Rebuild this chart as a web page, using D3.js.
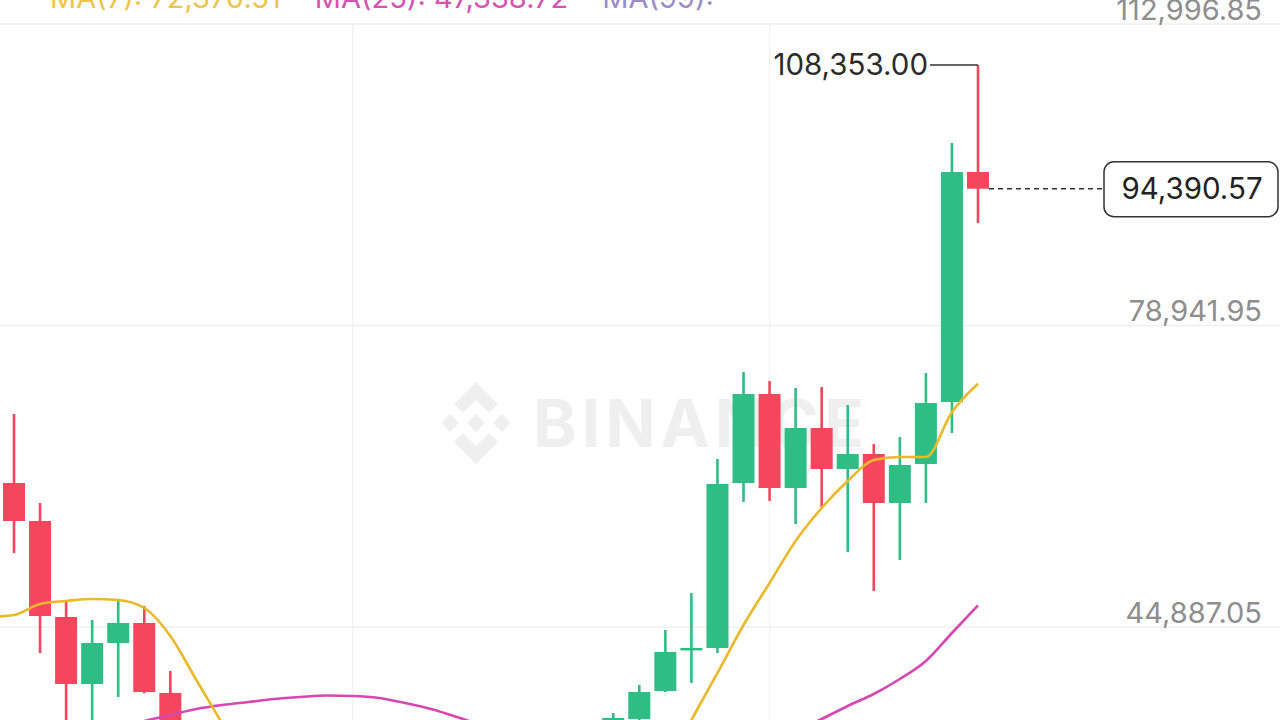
<!DOCTYPE html>
<html>
<head>
<meta charset="utf-8">
<script src="https://cdn.jsdelivr.net/npm/d3@7"></script>
<style>
  html, body { margin: 0; padding: 0; background: #fff; }
  svg { display: block; font-family: Inter, Roboto, "Noto Sans", sans-serif; }
</style>
</head>
<body>
<div id="chart"></div>
<script>
// candle data (index = candle position, only the visible ones)
const candleIdx = [0, 1, 2, 3, 4, 5, 6, 23, 24, 25, 26, 27, 28, 29, 30, 31, 32, 33, 34, 35, 36, 37];
const open  = [61152, 56860, 46017, 38449, 43080, 45339, 37433, 33254, 34500, 37659, 42250, 42516, 61152, 71205, 60588, 67365, 62734, 64428, 58893, 63298, 70301, 96280];
const high  = [68946, 58893, 47711, 45678, 47937, 47260, 39918, 35174, 38336, 44549, 48728, 63863, 73690, 72673, 71883, 71996, 69962, 65557, 66348, 73577, 99555, 108353.00];
const low   = [53246, 41951, 31559, 32124, 36981, 37400, 27606, 32124, 34200, 37546, 38562, 41951, 59006, 59119, 56521, 58442, 53359, 48954, 52455, 58893, 66800, 90519];
const close = [56860, 46130, 38449, 43080, 45339, 37546, 29865, 34609, 37546, 42064, 42520, 61039, 71205, 60588, 67365, 62734, 64428, 58893, 63185, 70188, 96280, 94390.57];

// moving averages (null = gap where the line runs below the chart)
const ma7Idx = [-1, 0, 1, 2, 3, 4, 5, 6, 7, 8, 9, 17, 25, 26, 27, 28, 29, 30, 31, 32, 33, 34, 35, 36, 37];
const ma7    = [46017, 46243, 47485, 47824, 48050, 47937, 47034, 43871, 38901, 33931, 28736, null, 28736, 34383, 39692, 45113, 49857, 54601, 58329, 61378, 63750, 64089, 64089, 69172, 72370.51];
const ma25Idx = [4, 5, 6, 7, 8, 9, 10, 11, 12, 13, 14, 15, 16, 17, 18, 24, 30, 31, 32, 33, 34, 35, 36, 37];
const ma25    = [33367, 34270, 34948, 35626, 36077, 36416, 36755, 36981, 37150, 37094, 36868, 36303, 35626, 34722, 33706, null, 33141, 34496, 35965, 37320, 39014, 41047, 44210, 47338.72];

const priceTicks = [44887.05, 78941.95, 112996.85];
const gridIdx = [13, 29];
const legendLabels = ["MA(7): 72,370.51", "MA(25): 47,338.72", "MA(99): -"];
const legendColors = ["#edc54a", "#d453b4", "#9a8cc8"];

const W = 1280, H = 720;
const green = "#2ebd85", red = "#f6465d";
const fmt = d3.format(",.2f");

const svg = d3.select("#chart").append("svg")
  .attr("width", W)
  .attr("height", H);

const x = d3.scaleLinear().domain([0, 37]).range([14, 978]);
const y = d3.scaleLinear().domain([44887.05, 112996.85]).range([627, 24]);

// grid
svg.append("g").selectAll("line").data(priceTicks).join("line")
  .attr("x1", 0).attr("x2", W)
  .attr("y1", d => y(d)).attr("y2", d => y(d))
  .attr("stroke", "#efefef")
  .attr("stroke-width", 1.3);

svg.append("g").selectAll("line").data(gridIdx).join("line")
  .attr("x1", d => x(d)).attr("x2", d => x(d))
  .attr("y1", y(112996.85)).attr("y2", H)
  .attr("stroke", "#f1f1f1")
  .attr("stroke-width", 1.3);

// watermark
let wm = svg.append("g")
  .attr("transform", "translate(476,423)")
  .attr("fill", "#efefef");

wm.append("polygon").attr("points", "0,-9 9,0 0,9 -9,0");
wm.append("polygon").attr("points", "-26,-9 -17,0 -26,9 -35,0");
wm.append("polygon").attr("points", "26,-9 35,0 26,9 17,0");
wm.append("polygon").attr("points", "0,-41 22,-19 13,-10 0,-23 -13,-10 -22,-19");
wm.append("polygon").attr("points", "0,41 22,19 13,10 0,23 -13,10 -22,19");

svg.append("text")
  .attr("x", 533)
  .attr("y", 447)
  .attr("font-size", 66)
  .attr("font-weight", 700)
  .attr("letter-spacing", 5)
  .attr("fill", "#efefef")
  .text("BINANCE");

// candles
const candles = candleIdx.map((i, k) => ({ i, o: open[k], h: high[k], l: low[k], c: close[k] }));

let cg = svg.append("g").selectAll("g").data(candles).join("g");

cg.append("line")
  .attr("x1", d => x(d.i)).attr("x2", d => x(d.i))
  .attr("y1", d => y(d.h)).attr("y2", d => y(d.l))
  .attr("stroke", d => d.c >= d.o ? green : red)
  .attr("stroke-width", 2.6);

cg.append("rect")
  .attr("x", d => x(d.i) - 11)
  .attr("width", 22)
  .attr("y", d => y(Math.max(d.o, d.c)))
  .attr("height", d => Math.max(2.5, Math.abs(y(d.o) - y(d.c))))
  .attr("fill", d => d.c >= d.o ? green : red);

// moving average lines
const line = d3.line()
  .defined(d => d.v != null)
  .x(d => x(d.i))
  .y(d => y(d.v))
  .curve(d3.curveMonotoneX);

svg.append("path")
  .datum(ma25Idx.map((i, k) => ({ i, v: ma25[k] })))
  .attr("d", line)
  .attr("fill", "none")
  .attr("stroke", "#d846b0")
  .attr("stroke-width", 2.6);

svg.append("path")
  .datum(ma7Idx.map((i, k) => ({ i, v: ma7[k] })))
  .attr("d", line)
  .attr("fill", "none")
  .attr("stroke", "#ebb82a")
  .attr("stroke-width", 2.6);

// price axis labels
let axis = svg.append("g")
  .attr("transform", "translate(1262,0)")
  .call(d3.axisLeft(y).tickValues(priceTicks).tickFormat(fmt).tickSize(0).tickPadding(0));

axis.select(".domain").remove();
axis.selectAll("text")
  .attr("dy", null)
  .attr("y", -5)
  .attr("text-anchor", "end")
  .attr("font-size", 29)
  .attr("font-family", "Inter, Roboto, sans-serif")
  .attr("fill", "#8e8e8e");

// legend (cut off at the top of the crop)
let lx = 50;
legendLabels.forEach((t, k) => {
  let tx = svg.append("text")
    .attr("x", lx)
    .attr("y", 8)
    .attr("font-size", 29)
    .attr("fill", legendColors[k])
    .text(t);
  lx += tx.node().getComputedTextLength() + 34;
});

// highest price marker
const last = candles[candles.length - 1];

svg.append("line")
  .attr("x1", 930).attr("x2", x(last.i))
  .attr("y1", y(last.h)).attr("y2", y(last.h))
  .attr("stroke", "#333")
  .attr("stroke-width", 1.5);

svg.append("text")
  .attr("x", 928)
  .attr("y", y(last.h))
  .attr("dy", "0.35em")
  .attr("text-anchor", "end")
  .attr("font-size", 29.5)
  .attr("fill", "#2b2b2b")
  .text(fmt(last.h));

// last price line and tag
svg.append("line")
  .attr("x1", x(last.i) + 11).attr("x2", 1104)
  .attr("y1", y(last.c)).attr("y2", y(last.c))
  .attr("stroke", "#333")
  .attr("stroke-width", 1.3)
  .attr("stroke-dasharray", "5,4");

svg.append("rect")
  .attr("x", 1104)
  .attr("y", y(last.c) - 27)
  .attr("width", 174)
  .attr("height", 55)
  .attr("rx", 10)
  .attr("fill", "#fff")
  .attr("stroke", "#333")
  .attr("stroke-width", 1.5);

svg.append("text")
  .attr("x", 1192)
  .attr("y", y(last.c))
  .attr("dy", "0.36em")
  .attr("text-anchor", "middle")
  .attr("font-size", 29.5)
  .attr("fill", "#222")
  .text(fmt(last.c));
</script>
</body>
</html>
